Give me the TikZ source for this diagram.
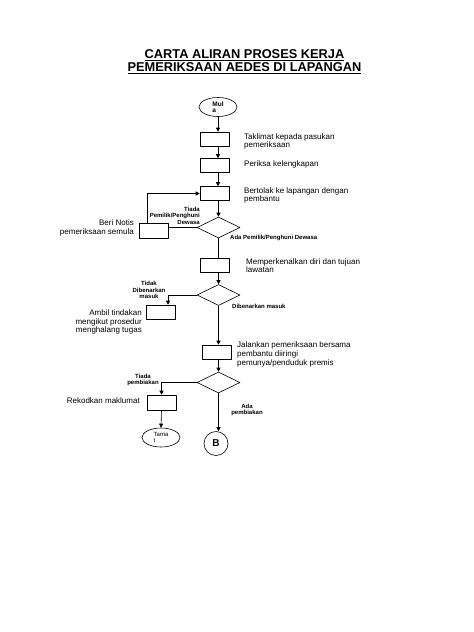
\documentclass[tikz,border=0pt]{standalone}
\usepackage{fontspec}
\setmainfont{Liberation Sans}
\usetikzlibrary{shapes.geometric,arrows.meta}

\begin{document}
\begin{tikzpicture}[x=1pt,y=-1pt,line cap=round,line join=round,
  proc/.style={draw,line width=0.6pt,rectangle,minimum width=29pt,minimum height=14pt,inner sep=0pt},
  dec/.style={draw,line width=0.6pt,diamond,minimum width=43pt,minimum height=21pt,inner sep=0pt},
  term/.style={draw,line width=0.6pt,ellipse,minimum width=38pt,minimum height=19pt,inner sep=0pt,align=left},
  conn/.style={draw,line width=0.6pt,circle,minimum size=24pt,inner sep=0pt,font=\fontsize{10}{12}\selectfont\bfseries},
  lbl/.style={font=\fontsize{8}{8.6}\selectfont,inner sep=0pt},
  tag/.style={font=\fontsize{6}{6.5}\selectfont\bfseries,inner sep=0pt},
  flow/.style={line width=0.6pt},
  arr/.style={line width=0.6pt,-{Triangle[length=4pt,width=4pt]}}]
  \useasboundingbox (0,0) rectangle (474,632);
  \node[font=\fontsize{12.8}{13}\selectfont\bfseries,align=center] (title) at (244.5,61.5)
    {\underline{CARTA ALIRAN PROSES KERJA}\\\underline{PEMERIKSAAN AEDES DI LAPANGAN}};
  \node[term,font=\fontsize{6.5}{6.5}\selectfont\bfseries] (mula) at (218,107) {Mul\\a};
  \node[proc] (b1) at (214.5,139) {};
  \node[proc] (b2) at (214.5,165.5) {};
  \node[proc] (b3) at (214.5,193.5) {};
  \node[dec] (d1) at (218.5,227.5) {};
  \node[proc,minimum height=15pt] (notis) at (153.5,230.5) {};
  \node[proc] (b4) at (215,265) {};
  \node[dec] (d2) at (218.5,295) {};
  \node[proc] (ambil) at (161,312) {};
  \node[proc] (b5) at (217,352) {};
  \node[dec] (d3) at (218.5,382.5) {};
  \node[proc,minimum height=15pt] (rekod) at (161.5,402.5) {};
  \node[term,font=\fontsize{6}{6}\selectfont] (tamat) at (161,437.5) {Tama\\t};
  \node[conn] (bb) at (216,443.5) {B};
  \node[lbl,anchor=west,align=left] (t1) at (244,141.5) {Taklimat kepada pasukan\\pemeriksaan};
  \node[lbl,anchor=west] (t2) at (244,164.5) {Periksa kelengkapan};
  \node[lbl,anchor=west,align=left] (t3) at (244,195.5) {Bertolak ke lapangan dengan\\pembantu};
  \node[lbl,anchor=west,align=left] (t4) at (246,265.5) {Memperkenalkan diri dan tujuan\\lawatan};
  \node[lbl,anchor=west,align=left] (t5) at (237,354.5) {Jalankan pemeriksaan bersama\\pembantu diiringi\\pemunya/penduduk premis};
  \node[lbl,anchor=east,align=right] (t6) at (134,228) {Beri Notis\\pemeriksaan semula};
  \node[lbl,anchor=east,align=right] (t7) at (142,322) {Ambil tindakan\\mengikut prosedur\\menghalang tugas};
  \node[lbl,anchor=east] (t8) at (140,401) {Rekodkan maklumat};
  \node[tag,anchor=east,align=right] (g1) at (200,215.5) {Tiada\\Pemilik/Penghuni\\Dewasa};
  \node[tag,anchor=west] (g2) at (230,237.5) {Ada Pemilik/Penghuni Dewasa};
  \node[tag,align=center] (g3) at (149,290) {Tidak\\Dibenarkan\\masuk};
  \node[tag,anchor=west] (g4) at (232,306) {Dibenarkan masuk};
  \node[tag,align=center] (g5) at (143,380) {Tiada\\pembiakan};
  \node[tag,align=center] (g6) at (247,410) {Ada\\pembiakan};
  \draw[arr] (mula.south) -- (mula.south |- b1.north);
  \draw[arr] (b1.south -| mula.south) -- (b2.north -| mula.south);
  \draw[arr] (b2.south -| mula.south) -- (b3.north -| mula.south);
  \draw[arr] (b3.south -| d1.north) -- (d1.north);
  \draw[flow] (d1.south) -- (d1.south |- b4.north);
  \draw[flow] (d1.west) -- (d1.west -| notis.east);
  \draw[arr] ([xshift=-6.5pt]notis.north) |- (b3.west);
  \draw[arr] (b4.south -| d2.north) -- (d2.north);
  \draw[arr] (d2.west) -| ([xshift=7pt]ambil.north);
  \draw[arr] (d2.south) -- (d2.south |- b5.north);
  \draw[arr] (b5.south -| d3.north) -- (d3.north);
  \draw[arr] (d3.west) -| (rekod.north);
  \draw[arr] (rekod.south) -- (tamat.north);
  \draw[arr] (d3.south) -- (d3.south |- bb.north);
\end{tikzpicture}
\end{document}
